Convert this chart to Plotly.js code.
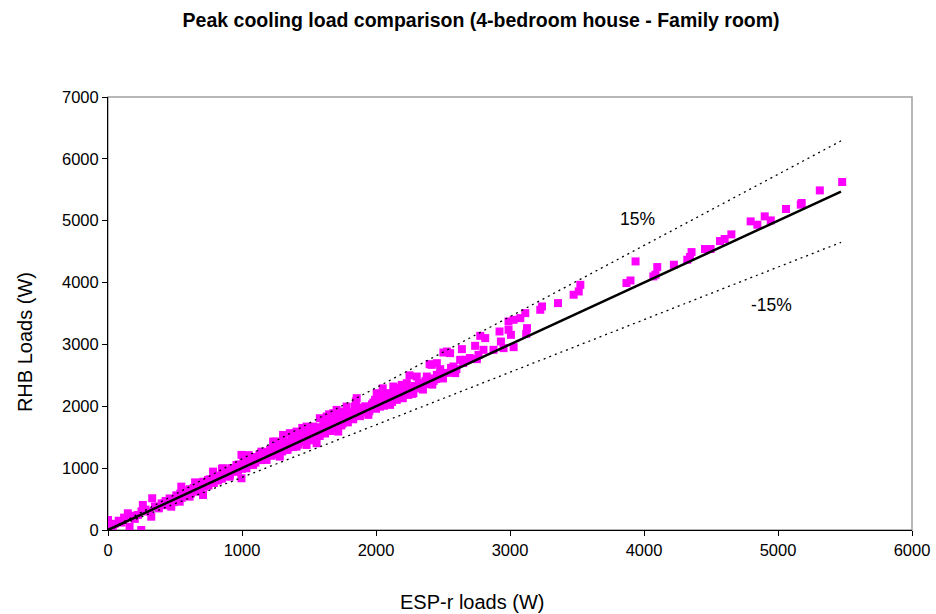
<!DOCTYPE html>
<html>
<head>
<meta charset="utf-8">
<script src="https://cdn.plot.ly/plotly-3.0.1.min.js"></script>
<style>html,body{margin:0;padding:0;background:#fff;}#chart{width:936px;height:614px;}</style>
</head>
<body>
<div id="chart"></div>
<script>
// ESP-r loads (W) vs RHB loads (W)
const espLoads = [
5479,5312,5177,5170,5060,4946,4901,4846,4796,4652,4602,4567,4497,4455,4355,4343,4323,4223,4099,4086,4070,3937,3899,3869,
3525,3513,3475,3358,3239,3226,3114,3077,3027,2989,3127,3121,2989,2922,3007,2778,2815,2740,2641,2553,3027,2952,2877,2932,2802,2765,2753,2665,2628,2578,2591,
2529,2503,2578,2454,2416,2479,2454,2379,2304,2366,2329,2279,2241,2192,2230,2155,2129,2105,2155,2105,2055,2005,1993,2030,1856,1843,1868,1943,1955,1781,1756,1706,1681,1632,1581,1606,1706,1718,1531,1482,1507,1557,1482,1407,1357,1307,1382,1332,
0,0,36,0,20,148,161,223,248,260,330,323,310,372,422,472,535,547,609,659,709,684,746,784,858,908,959,996,996,1033,1083,1145,1183,1232,1282,1307,1394,1407,
400,430,450,480,500,520,550,560,580,600,620,640,650,670,690,700,720,740,750,770,790,800,820,840,850,870,880,900,910,930,940,960,970,990,1000,1010,1020,1040,1050,1060,1080,1090,1100,1120,1130,1140,1160,1170,1180,1200,1210,1220,1240,1250,1260,1280,1290,1300,1320,1330,1340,1360,1370,1380,1400,1410,1420,1440,1450,1460,1480,1490,1500,1520,1530,1540,1560,1570,1580,1600,1610,1620,1640,1650,1660,1680,1690,1700,1720,1730,1740,1760,1780,1790,1800,1820,1830,1850,1870,1880,1900,1920,1940,1960,1980,2000,2020,2040,2060,2080,2100,2120,2150,2170,2200,2220,2250,2270,2300,2320,2350,2380,2400,2420,2450,2480,2500,2530,2560,2600,2650,2700,
50,80,100,120,180,200,250,280,350,380,430,460,490,510,540,570,590,610,630,660,680,710,730,760,780,810,830,860,890,920,950,980,1010,1030,1070,1100,1130,1160,1190,1230,1260,1290,1310,1350,1380,1420,1450,1470,1500,1520,1550,1580,1610,1640,1670,1700,1730,1760,1800,1830,1860,1900,1930,1970,2010,2040,2070,2110,2140,2180,2210,2260,2290,2340,2370,2430,2470,
650,850,1050,1250,1450,1650,1850,2050,2250,2400,1150,1350,1550,1750,1950,2150,2350
];
const rhbLoads = [
5626,5490,5286,5260,5189,5005,5070,4935,4989,4779,4704,4671,4542,4542,4493,4413,4369,4288,4251,4126,4100,4342,4034,3992,
3964,3856,3803,3668,3614,3560,3506,3425,3398,3371,3263,3172,3236,3209,3155,3139,3102,2977,2924,2859,2956,2940,2913,3047,2913,2832,2762,2751,2751,2643,2536,
2885,2869,2562,2697,2670,2600,2508,2481,2481,2374,2319,2212,2184,2346,2374,2293,2319,2212,2104,2023,2212,2212,2104,1995,2131,1995,1861,1861,1969,1995,1914,1942,1888,1834,1807,1672,1726,1591,1672,1672,1565,1403,1375,1591,1565,1510,1403,1294,
162,28,0,100,60,270,53,243,0,405,513,215,296,377,432,377,458,701,539,647,566,756,809,944,998,863,1052,1214,836,998,1052,1267,1133,1429,1187,1537,1565,1348,
430,470,420,500,480,540,520,600,560,640,590,680,620,700,660,740,700,760,720,800,760,850,800,880,830,920,870,960,900,990,940,1010,960,1050,990,1100,1030,1080,1140,1050,1120,1180,1090,1160,1220,1130,1200,1260,1170,1240,1300,1200,1280,1340,1230,1310,1380,1270,1360,1420,1300,1400,1460,1340,1440,1500,1380,1480,1540,1420,1520,1590,1450,1560,1620,1480,1600,1660,1520,1640,1700,1560,1690,1750,1600,1730,1790,1640,1770,1830,1690,1810,1870,1740,1850,1900,1790,1890,1950,1840,1940,2000,1900,1990,2060,1960,2050,2120,2010,2100,2170,2070,2150,2230,2130,2220,2300,2200,2290,2380,2270,2360,2450,2350,2440,2530,2450,2540,2620,2600,2700,2780,
100,150,120,200,230,180,300,330,380,350,400,510,450,560,590,610,580,660,640,720,680,780,730,820,780,870,830,900,940,1000,980,1060,1020,1110,1100,1180,1150,1250,1210,1310,1290,1330,1400,1360,1450,1460,1500,1560,1530,1610,1560,1650,1620,1720,1680,1770,1740,1850,1800,1890,1900,1980,1960,2030,2000,2080,2150,2130,2200,2190,2260,2250,2330,2330,2410,2410,2480,
770,990,1210,1430,1650,1870,2080,2290,2500,2680,1150,1340,1520,1720,1920,2120,2330
];
// reference lines
const lineX = [0, 5470];
const equalY = [0, 5470];
const plus15Y = [0, 6290];
const minus15Y = [0, 4650];
const labelPlus = {x: 3950, y: 5030, text: "15%"};
const labelMinus = {x: 4950, y: 3640, text: "-15%"};
const titleText = "Peak cooling load comparison (4-bedroom house - Family room)";
const xTitle = "ESP-r loads (W)";
const yTitle = "RHB Loads (W)";

const FONT = "Liberation Sans, Arial, sans-serif";
const traces = [
  {x: espLoads, y: rhbLoads, type: "scatter", mode: "markers",
   marker: {symbol: "square", size: 8, color: "#ff00ff", line: {width: 0}}},
  {x: lineX, y: equalY, type: "scatter", mode: "lines", line: {color: "#000", width: 2.5}},
  {x: lineX, y: plus15Y, type: "scatter", mode: "lines", line: {color: "#000", width: 1.3, dash: "2px,4px"}},
  {x: lineX, y: minus15Y, type: "scatter", mode: "lines", line: {color: "#000", width: 1.3, dash: "2px,4px"}}
];
const layout = {
  width: 936, height: 614,
  margin: {l: 108, r: 24, t: 97, b: 84},
  paper_bgcolor: "#fff", plot_bgcolor: "#fff",
  showlegend: false,
  font: {family: FONT, color: "#000", size: 16},
  title: {text: "<b>" + titleText + "</b>", xref: "container", yref: "container",
          x: 0.514, xanchor: "center", y: 0.967, yanchor: "middle",
          font: {family: FONT, size: 19.5, color: "#000"}},
  xaxis: {range: [0, 6000], dtick: 1000, showgrid: false, zeroline: false,
          showline: true, linecolor: "#000", linewidth: 1, ticks: "outside", ticklen: 5, tickcolor: "#000",
          tickfont: {family: FONT, size: 16.5}, fixedrange: true},
  yaxis: {range: [0, 7000], dtick: 1000, showgrid: false, zeroline: false,
          showline: true, linecolor: "#000", linewidth: 1, ticks: "outside", ticklen: 5, tickcolor: "#000",
          tickfont: {family: FONT, size: 16.5}, fixedrange: true},
  shapes: [{type: "rect", xref: "paper", yref: "paper", x0: 0, x1: 1, y0: 0, y1: 1,
            line: {color: "#a0a0a0", width: 1.5}, layer: "below"}],
  annotations: [
    {x: labelPlus.x, y: labelPlus.y, text: labelPlus.text, showarrow: false, font: {family: FONT, size: 17.5}},
    {x: labelMinus.x, y: labelMinus.y, text: labelMinus.text, showarrow: false, font: {family: FONT, size: 17.5}},
    {xref: "paper", yref: "paper", x: 0.4527, y: -0.166, xanchor: "center", yanchor: "middle",
     text: xTitle, showarrow: false, font: {family: FONT, size: 20}},
    {xref: "paper", yref: "paper", x: -0.1032, y: 0.434, xanchor: "center", yanchor: "middle",
     text: yTitle, textangle: -90, showarrow: false, font: {family: FONT, size: 20}}
  ]
};
Plotly.newPlot("chart", traces, layout, {displayModeBar: false, staticPlot: true});
</script>
</body>
</html>
